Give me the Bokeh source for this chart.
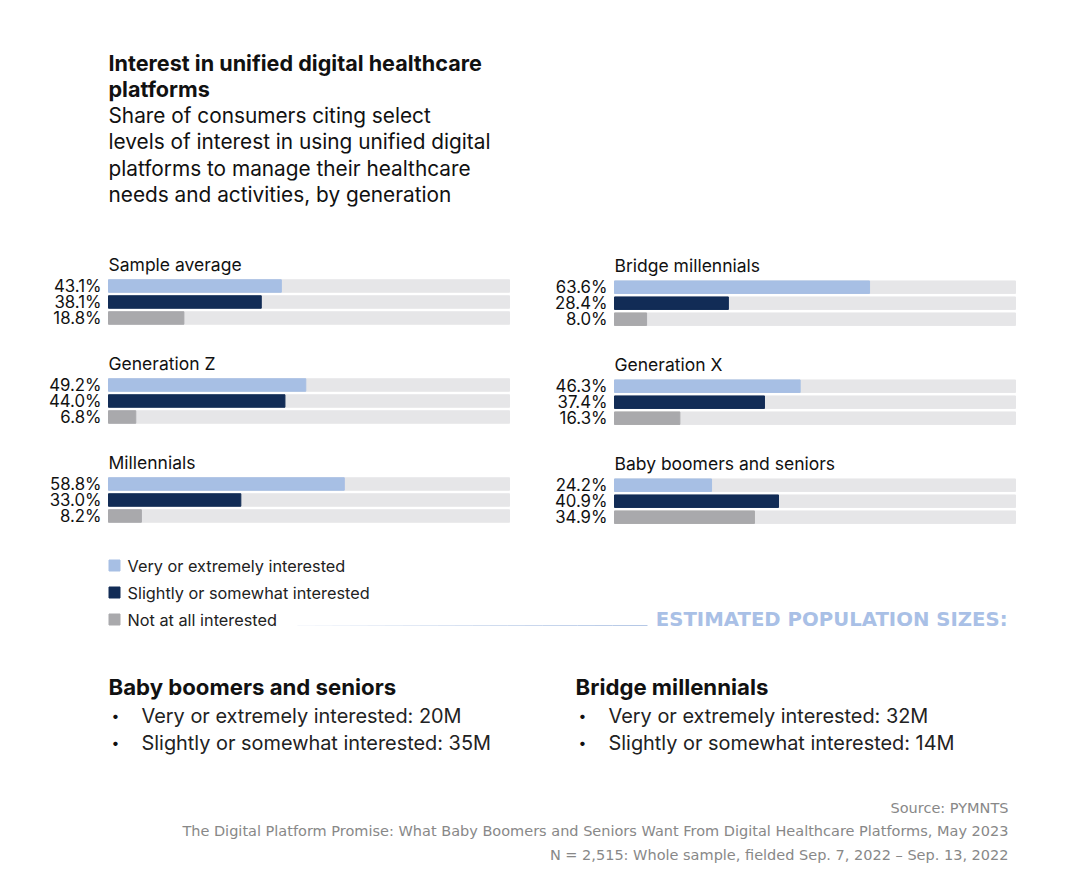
from bokeh.plotting import figure
from bokeh.models import Range1d
from bokeh.core.properties import value
from bokeh.embed import file_html
from bokeh.resources import INLINE

# ---------------- data ----------------
groups_left = ["Sample average", "Generation Z", "Millennials"]
groups_right = ["Bridge millennials", "Generation X", "Baby boomers and seniors"]
series_names = ["Very or extremely interested", "Slightly or somewhat interested", "Not at all interested"]
very_left = [43.1, 49.2, 58.8]
slightly_left = [38.1, 44.0, 33.0]
notatall_left = [18.8, 6.8, 8.2]
very_right = [63.6, 46.3, 24.2]
slightly_right = [28.4, 37.4, 40.9]
notatall_right = [8.0, 16.3, 34.9]

title_lines = ["Interest in unified digital healthcare", "platforms"]
subtitle_lines = ["Share of consumers citing select",
                  "levels of interest in using unified digital",
                  "platforms to manage their healthcare",
                  "needs and activities, by generation"]
pop_header = "ESTIMATED POPULATION SIZES:"
pop_left_title = "Baby boomers and seniors"
pop_left_items = ["Very or extremely interested: 20M", "Slightly or somewhat interested: 35M"]
pop_right_title = "Bridge millennials"
pop_right_items = ["Very or extremely interested: 32M", "Slightly or somewhat interested: 14M"]
footer_lines = ["Source: PYMNTS",
                "The Digital Platform Promise: What Baby Boomers and Seniors Want From Digital Healthcare Platforms, May 2023",
                "N = 2,515: Whole sample, fielded Sep. 7, 2022 \u2013 Sep. 13, 2022"]

# ---------------- styling ----------------
C_LIGHT = "#a7bfe4"
C_DARK = "#122c56"
C_GRAY = "#a9a9ac"
C_BG = "#e6e6e8"
colors = [C_LIGHT, C_DARK, C_GRAY]
FONT = "Inter"

W, H = 1054, 880
p = figure(width=W, height=H, x_range=Range1d(0, W), y_range=Range1d(H, 0),
           output_backend="svg", toolbar_location=None, min_border=0)
p.axis.visible = False
p.xgrid.visible = False
p.ygrid.visible = False
p.outline_line_color = None
p.background_fill_color = "white"
p.border_fill_color = "white"

# panel scales: 0..100 -> 401 px
scale = 4.01
lx0 = 108
rx0 = 614
p.extra_x_ranges = {
    "L": Range1d(-lx0 / scale, -lx0 / scale + W / scale),
    "R": Range1d(-rx0 / scale, -rx0 / scale + W / scale),
}

def txt(x, y, s, size, color="#111111", align="left", style="normal", font=FONT, baseline="middle", xr="default"):
    p.text(x=[x], y=[y], text=[s], text_font=value(font), text_font_size=f"{size}px",
           text_color=color, text_align=align, text_baseline=baseline, text_font_style=style,
           x_range_name=xr)

# title
txt(108, 62, title_lines[0], 21.6, style="bold")
txt(108, 88, title_lines[1], 21.6, style="bold")
for i, s in enumerate(subtitle_lines):
    txt(108, 115 + i * 26.4, s, 20.8)

# panels
def panel(xr, x_title, groups, vals, top, step):
    for g, name in enumerate(groups):
        base = top + g * step
        txt(x_title, base - 22, name, 17.5)
        ys = [base + k * 16 for k in range(3)]
        p.hbar(y=ys, left=0, right=100, height=12.5, color=C_BG, x_range_name=xr)
        for k in range(3):
            v = vals[k][g]
            p.hbar(y=[ys[k]], left=0, right=v, height=12.5, color=colors[k], x_range_name=xr)
            p.text(x=[0], y=[ys[k]], text=[f"{v:.1f}%"], text_font=value(FONT), text_font_size="16.8px",
                   text_color="#111111", text_align="right", text_baseline="middle",
                   x_offset=-7, x_range_name=xr)

panel("L", 108, groups_left, [very_left, slightly_left, notatall_left], 285.5, 99)
panel("R", 614, groups_right, [very_right, slightly_right, notatall_right], 286.7, 99)

# legend
for i, name in enumerate(series_names):
    yy = 565 + i * 27
    p.rect(x=[114], y=[yy], width=11, height=11, color=colors[i])
    txt(127, yy, name, 16.3, color="#222222")

# separator line (fading)
n = 20
x_a, x_b = 297, 647
for i in range(n):
    xa = x_a + (x_b - x_a) * i / n
    xb = x_a + (x_b - x_a) * (i + 1) / n
    p.line(x=[xa, xb], y=[625, 625], line_color="#a9bfe2", line_alpha=0.1 + 0.8 * i / n, line_width=1)

txt(1007, 619, pop_header, 19.7, color="#a9c0e6", align="right", style="bold", font="DejaVu Sans")

# population sizes
def pop(xt, title, items):
    txt(xt, 686, title, 22.2, style="bold")
    for i, s in enumerate(items):
        yy = 715 + i * 27
        txt(xt + 3, yy, "\u2022", 14)
        txt(xt + 33, yy, s, 19.9, color="#222222")

pop(108, pop_left_title, pop_left_items)
pop(575, pop_right_title, pop_right_items)

# footer
for i, s in enumerate(footer_lines):
    txt(1008, 807 + i * 23.5, s, 14.5, color="#888888", align="right", font="DejaVu Sans")

open("out.html", "w").write(file_html(p, INLINE))
